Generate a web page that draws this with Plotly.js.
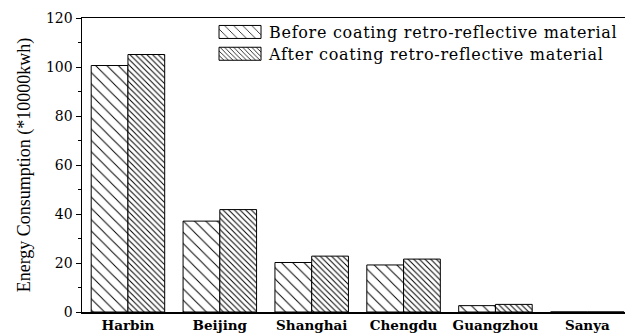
<!DOCTYPE html>
<html>
<head>
<meta charset="utf-8">
<script src="https://cdn.plot.ly/plotly-3.0.1.min.js"></script>
<style>html,body{margin:0;padding:0;background:#fff;}#chart{width:625px;height:335px;}
.legend .legendtext{letter-spacing:0.7px;}</style>
</head>
<body>
<div id="chart"></div>
<script>
const cities = ["Harbin", "Beijing", "Shanghai", "Chengdu", "Guangzhou", "Sanya"];
const beforeCoating = [100.6, 37.1, 20.2, 19.2, 2.6, 0];
const afterCoating = [105.1, 41.8, 22.8, 21.6, 3.1, 0];
const seriesNames = ["Before coating retro-reflective material", "After coating retro-reflective material"];
const yTicks = [0, 20, 40, 60, 80, 100, 120];

const serif = "Liberation Serif, Times New Roman, serif";
const wideSerif = "DejaVu Serif, serif";

const traces = [
  {
    type: "bar", x: cities, y: beforeCoating, name: seriesNames[0],
    marker: {
      color: "white",
      line: {color: "black", width: 1},
      pattern: {shape: "\\", size: 8, solidity: 0.12, fgcolor: "black", bgcolor: "white", fillmode: "replace"}
    }
  },
  {
    type: "bar", x: cities, y: afterCoating, name: seriesNames[1],
    marker: {
      color: "white",
      line: {color: "black", width: 1},
      pattern: {shape: "\\", size: 4, solidity: 0.25, fgcolor: "black", bgcolor: "white", fillmode: "replace"}
    }
  }
];

const layout = {
  width: 625, height: 335,
  margin: {l: 82, r: 0, t: 18, b: 23},
  paper_bgcolor: "white", plot_bgcolor: "white",
  barmode: "group", bargap: 0.2, bargroupgap: 0,
  font: {family: serif, color: "black", size: 14},
  showlegend: true,
  legend: {
    x: 0.2376, y: 1.01, xanchor: "left", yanchor: "top",
    bgcolor: "rgba(0,0,0,0)", borderwidth: 0,
    itemwidth: 48,
    font: {family: wideSerif, size: 16, color: "black"},
    tracegroupgap: 0
  },
  xaxis: {
    range: [-0.5, 5.41],
    showline: true, linecolor: "black", linewidth: 1.5, mirror: true,
    ticks: "", showgrid: false, zeroline: false,
    tickfont: {family: wideSerif, size: 13.5, color: "black", weight: "bold"}
  },
  yaxis: {
    range: [0, 120],
    tickvals: yTicks, ticktext: yTicks.map(String),
    showline: true, linecolor: "black", linewidth: 1.5,
    ticks: "outside", ticklen: 5, tickwidth: 1, tickcolor: "black",
    minor: {dtick: 10, ticks: "outside", ticklen: 3, tickcolor: "black", tickwidth: 1},
    showgrid: false, zeroline: false,
    tickfont: {family: wideSerif, size: 14, color: "black"},
    title: {text: "Energy Consumption (*10000kwh)", font: {family: serif, size: 18, color: "black"}, standoff: 10}
  }
};

Plotly.newPlot("chart", traces, layout, {displayModeBar: false, staticPlot: true}).then(function (gd) {
  // let the letter-spaced legend text show in full
  gd.querySelectorAll(".legend [clip-path]").forEach(function (e) {
    e.removeAttribute("clip-path");
  });
  // enlarge legend swatches to wide rectangles like the original figure
  gd.querySelectorAll(".legend .legendpoints path").forEach(function (p) {
    p.setAttribute("d", "M-21,6.5H21V-6.5H-21Z");
  });
  // tighten legend row spacing
  gd.querySelectorAll(".legend g.traces").forEach(function (g, i) {
    const t = g.getAttribute("transform") || "";
    const m = t.match(/translate\(\s*([-\d.]+)[ ,]+([-\d.]+)\s*\)/);
    if (m) g.setAttribute("transform", "translate(" + m[1] + "," + (parseFloat(m[2]) - i * 2) + ")");
  });
});
</script>
</body>
</html>
